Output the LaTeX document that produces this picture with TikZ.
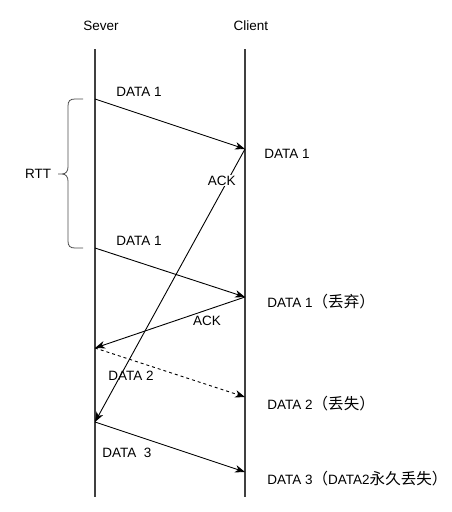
\documentclass[tikz,border=0pt]{standalone}
\usepackage{fontspec}
\setmainfont{Liberation Sans}
\newfontfamily\cjk[Scale=1.15]{Noto Sans CJK SC}
\usetikzlibrary{arrows.meta}

\begin{document}
\begin{tikzpicture}[->,>={Stealth[length=10pt,width=7.5pt,inset=3pt]},x=1pt,y=-1pt,
  line width=0.9pt,font=\fontsize{13.5}{16}\selectfont,
  life line/.style={-,draw=black!75,line width=1.1pt},
  lost msg/.style={dashed},
  ack label/.style={fill=white,inner sep=1pt},
  side label/.style={anchor=west,inner sep=0pt}]
  \useasboundingbox (0,0) rectangle (452,512);

  \node (sever) at (101,26) {Sever};
  \node (client) at (251,26) {Client};

  \coordinate (s0) at (95,49);
  \coordinate (s1) at (95,99);
  \coordinate (s2) at (95,248);
  \coordinate (s3) at (95,348);
  \coordinate (s4) at (95,422);
  \coordinate (s5) at (95,497);
  \coordinate (c0) at (245,49);
  \coordinate (c1) at (245,149);
  \coordinate (c2) at (245,297);
  \coordinate (c3) at (245,397);
  \coordinate (c4) at (245,472);
  \coordinate (c5) at (245,497);

  \draw[life line] (s0) -- (s5);
  \draw[life line] (c0) -- (c5);

  % messages
  \path
    (s1) edge (c1)
    (c1) edge node (ack1) [ack label,pos=0.115,xshift=-6pt] {ACK} (s4)
    (s2) edge (c2)
    (c2) edge (s3)
    (s3) edge [lost msg] (c3)
    (s4) edge (c4);

  \node (data1a) at (139,92) {DATA 1};
  \node (data1b) at (139,241) {DATA 1};
  \node (ack2) at (207,321) {ACK};
  \node (data2) at (131,376) {DATA 2};
  \node (data3) at (127,453) {DATA\ \ 3};

  \node[side label] (recv1) at (264,154) {DATA 1};
  \node[side label] (recv2) at (267,302) {DATA 1{\cjk（丢弃）}};
  \node[side label] (recv3) at (267,404) {DATA 2{\cjk（丢失）}};
  \node[side label] (recv4) at (267,479) {DATA 3{\cjk（}DATA2{\cjk 永久丢失）}};

  % RTT brace
  \coordinate (rtt top) at (83,99);
  \coordinate (rtt bottom) at (83,248);
  \draw[-,draw=black!70,line width=0.8pt] (rtt top) -- (75,99)
    .. controls (70,99) and (68,101) .. (68,106) -- (68,167)
    .. controls (68,171) and (66,174) .. (62,174) -- (58,174)
    -- (62,174) .. controls (66,174) and (68,177) .. (68,181) -- (68,241)
    .. controls (68,246) and (70,248) .. (75,248) -- (rtt bottom);
  \node (rtt) at (38,174) {RTT};
\end{tikzpicture}
\end{document}
